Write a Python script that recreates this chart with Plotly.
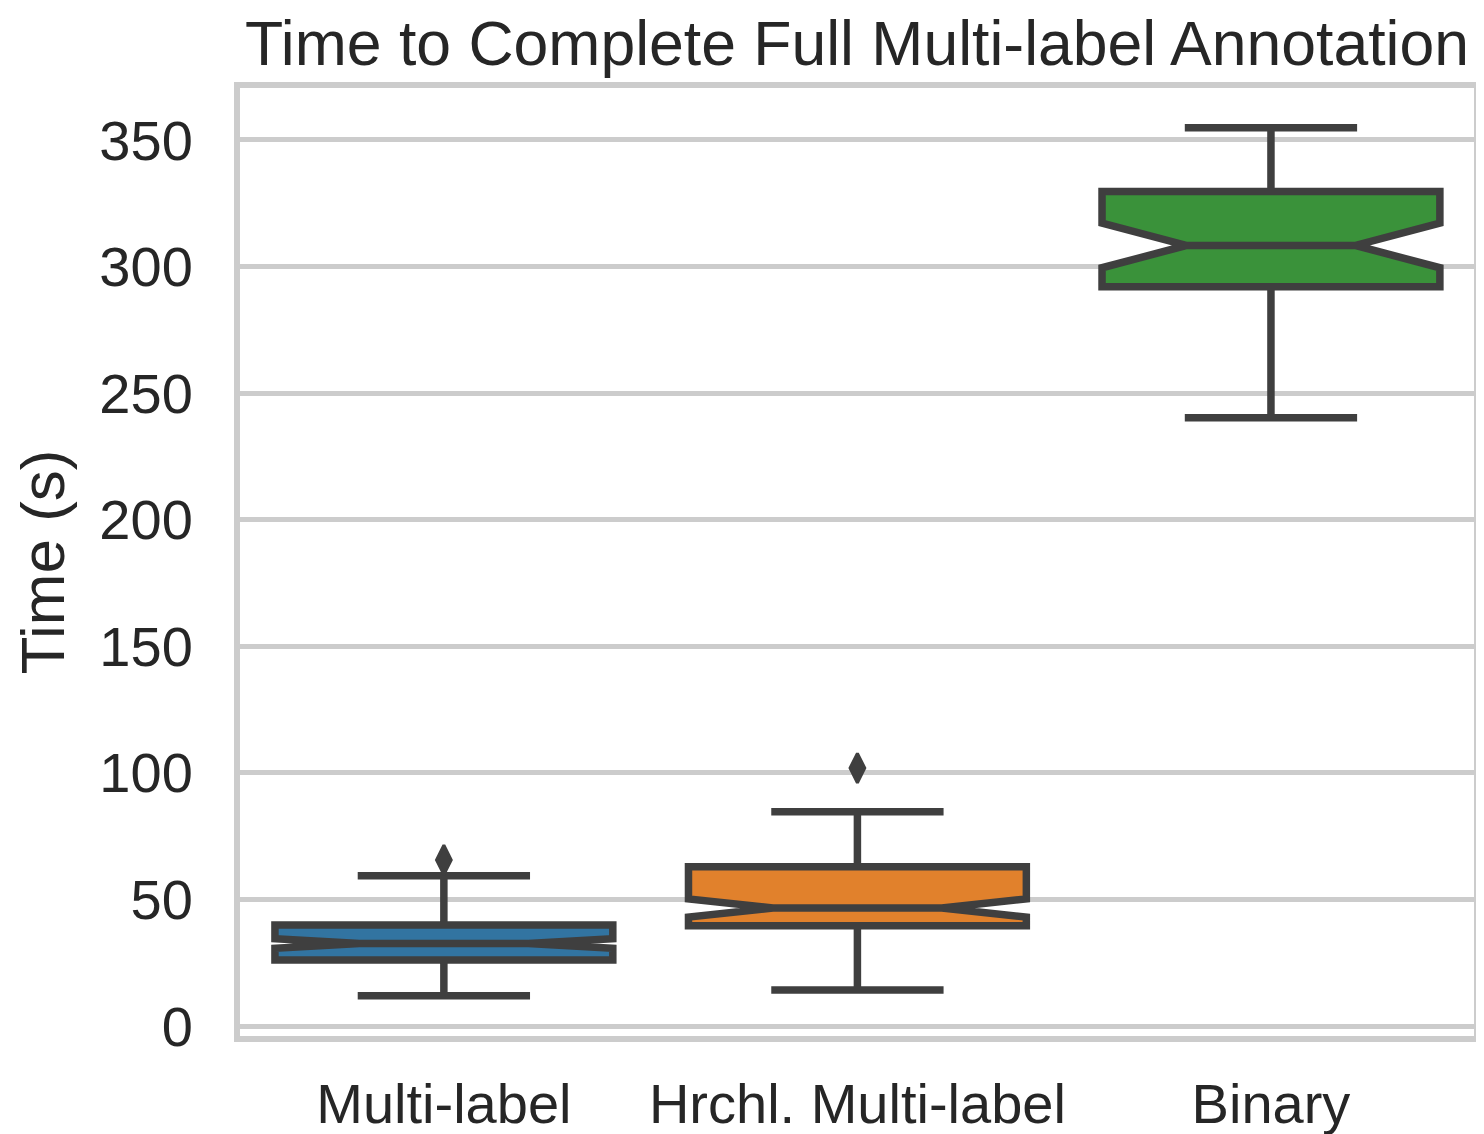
import plotly.graph_objects as go

categories = ["Multi-label", "Hrchl. Multi-label", "Binary"]
q1 = [26.1, 39.6, 292.0]
median = [32.6, 46.6, 308.3]
q3 = [39.9, 62.9, 329.6]
lower_whisker = [11.9, 14.2, 240.3]
upper_whisker = [59.3, 84.6, 354.8]
notch_span = [1.9, 3.6, 8.8]
outlier_x = ["Multi-label", "Hrchl. Multi-label"]
outlier_y = [65.6, 101.9]
fill_colors = ["#3274a1", "#e1812c", "#3a923a"]

y_ticks = [0, 50, 100, 150, 200, 250, 300, 350]

edge = "#3f3f3f"
grid = "#cccccc"
text_color = "#262626"
font_family = "Liberation Sans, Arial, sans-serif"

fig = go.Figure()
for i, cat in enumerate(categories):
    fig.add_trace(go.Box(
        x=[cat],
        q1=[q1[i]], median=[median[i]], q3=[q3[i]],
        lowerfence=[lower_whisker[i]], upperfence=[upper_whisker[i]],
        notchspan=[notch_span[i]],
        notched=True, notchwidth=0.25,
        width=0.817, whiskerwidth=0.51,
        fillcolor=fill_colors[i],
        line=dict(color=edge, width=7.5),
        boxpoints=False,
        showlegend=False,
        hoverinfo="skip",
    ))

fig.add_trace(go.Scatter(
    x=outlier_x, y=outlier_y, mode="markers",
    marker=dict(symbol="diamond-tall", size=21, color=edge,
                line=dict(color=edge, width=3)),
    showlegend=False, hoverinfo="skip",
))

fig.update_layout(
    width=1484, height=1134,
    margin=dict(l=232, r=17.5, t=79.5, b=105.5, autoexpand=False),
    paper_bgcolor="white", plot_bgcolor="white",
    boxmode="overlay",
    font=dict(family=font_family, color=text_color, size=56),
    title=dict(
        text="Time to Complete Full Multi-label Annotation",
        x=849 / 1484, xanchor="center",
        y=1 - 35 / 1134, yanchor="middle", yref="container",
        automargin=False,
        font=dict(size=62.5, color=text_color, family=font_family),
    ),
    xaxis=dict(
        type="category",
        categoryorder="array", categoryarray=categories,
        range=[-0.493, 2.491],
        showgrid=False, zeroline=False, automargin=False,
        showline=True, mirror=True, linecolor=grid, linewidth=6,
        ticks="", ticklabelstandoff=14,
        tickfont=dict(size=56, color=text_color, family=font_family),
    ),
    yaxis=dict(
        range=[-3.95, 370.5],
        tickvals=y_ticks, ticktext=[str(v) for v in y_ticks],
        showgrid=True, gridcolor=grid, gridwidth=5,
        zeroline=False, automargin=False,
        showline=True, mirror=True, linecolor=grid, linewidth=6,
        ticks="", ticklabelstandoff=30,
        tickfont=dict(size=56, color=text_color, family=font_family),
        title=dict(text="Time (s)", standoff=17,
                   font=dict(size=62, color=text_color, family=font_family)),
    ),
)

fig.write_html("out.html")
